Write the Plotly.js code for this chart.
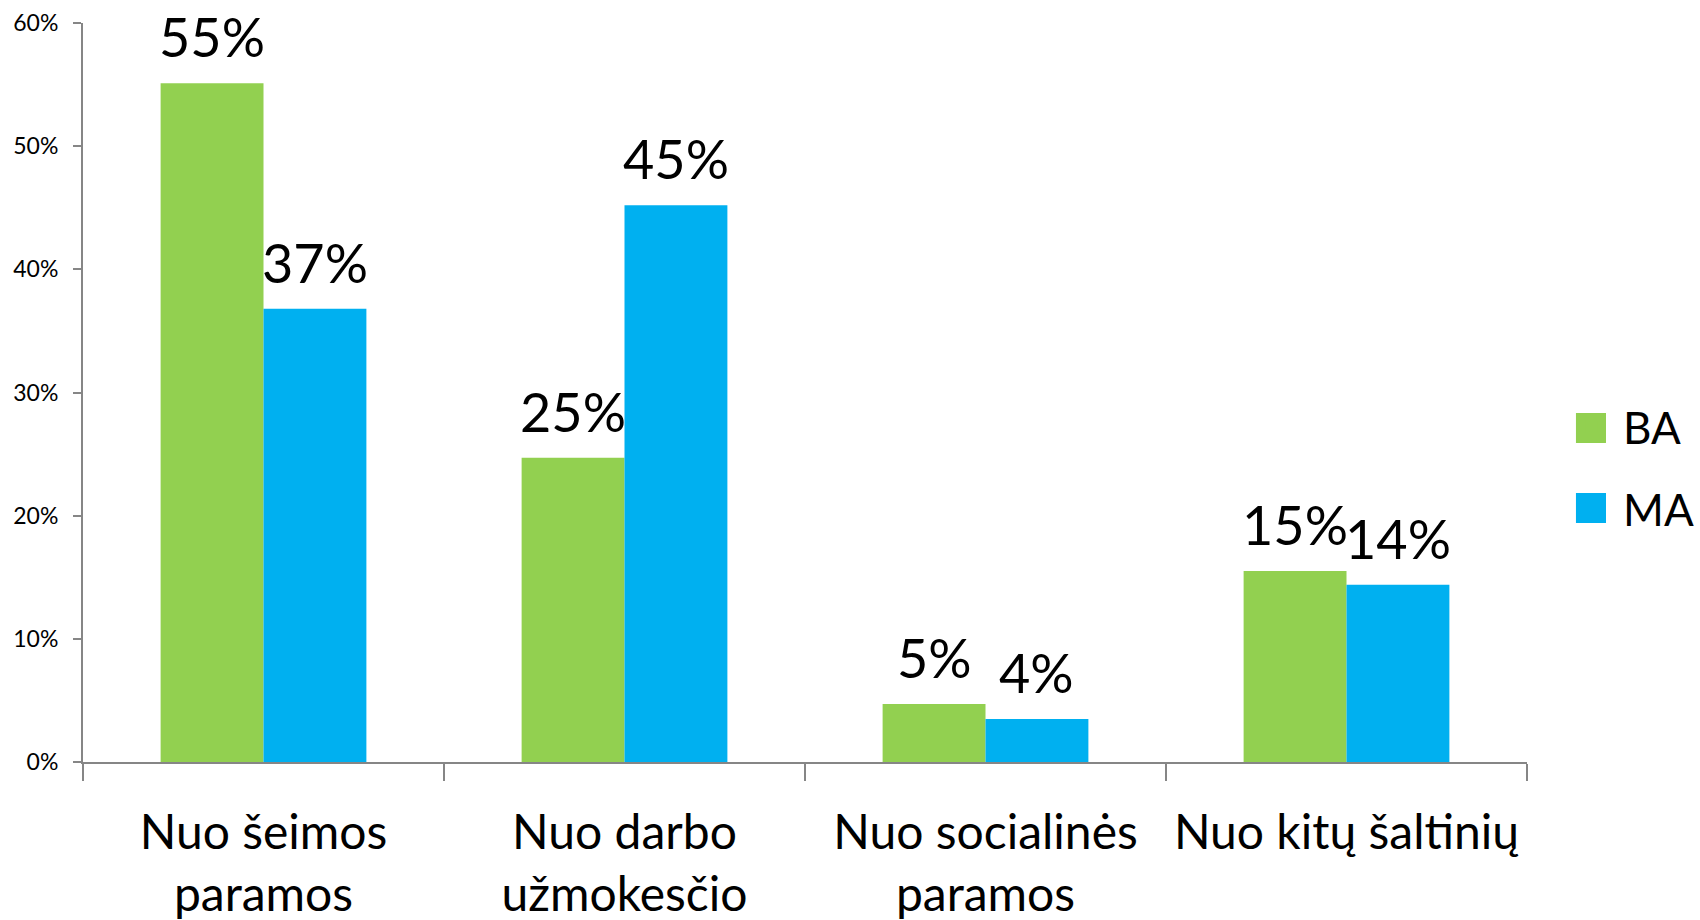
<!DOCTYPE html>
<html>
<head>
<meta charset="utf-8">
<script src="https://cdn.plot.ly/plotly-3.0.1.min.js"></script>
<style>html,body{margin:0;padding:0;background:#fff;}#chart{width:1700px;height:920px;}</style>
</head>
<body>
<div id="chart"></div>
<script>
const categories = ["Nuo šeimos<br>paramos", "Nuo darbo<br>užmokesčio", "Nuo socialinės<br>paramos", "Nuo kitų šaltinių"];
const seriesNames = ["BA", "MA"];
const seriesColors = ["#92D050", "#00B0F0"];
const baValues = [55.1, 24.7, 4.7, 15.5];
const maValues = [36.8, 45.2, 3.5, 14.4];
const baLabels = ["55%", "25%", "5%", "15%"];
const maLabels = ["37%", "45%", "4%", "14%"];
const yTickVals = [0, 10, 20, 30, 40, 50, 60];
const yTickText = ["0%", "10%", "20%", "30%", "40%", "50%", "60%"];

const FONT = "Lato, 'Open Sans', sans-serif";
const bargap = 0.43;
const barOffset = (1 - bargap) / 4;

const traces = [
  {type: 'bar', name: seriesNames[0], x: categories, y: baValues,
   marker: {color: seriesColors[0]}, legendgroup: 'a', hoverinfo: 'skip'},
  {type: 'bar', name: seriesNames[1], x: categories, y: maValues,
   marker: {color: seriesColors[1]}, legendgroup: 'b', hoverinfo: 'skip'}
];

const annotations = [];
[[baValues, baLabels, -barOffset], [maValues, maLabels, barOffset]].forEach(([vals, labs, off]) => {
  vals.forEach((v, i) => {
    annotations.push({
      x: i + off, y: v, xref: 'x', yref: 'y', text: labs[i], showarrow: false,
      yanchor: 'bottom', xanchor: 'center', yshift: 12,
      font: {family: FONT, size: 54, color: '#000'}
    });
  });
});

// enlarged legend swatches (same colours as the legend icons they cover)
const swatchBoxes = [[1.0339, 1.0547, 0.4317, 0.4723], [1.0339, 1.0547, 0.3234, 0.3640]];
const shapes = swatchBoxes.map((b, i) => ({
  type: 'rect', xref: 'paper', yref: 'paper', x0: b[0], x1: b[1], y0: b[2], y1: b[3],
  fillcolor: seriesColors[i], line: {width: 0}, layer: 'above'
}));

const layout = {
  width: 1700, height: 920,
  margin: {l: 83, r: 173, t: 23, b: 158, autoexpand: false},
  paper_bgcolor: '#fff', plot_bgcolor: '#fff',
  barmode: 'group', bargap: bargap, bargroupgap: 0,
  font: {family: FONT, color: '#000'},
  showlegend: true,
  legend: {x: 1.0222, xanchor: 'left', y: 0.398, yanchor: 'middle', itemwidth: 54,
           font: {family: FONT, size: 44, color: '#000'}, tracegroupgap: 22,
           bgcolor: 'rgba(0,0,0,0)'},
  xaxis: {type: 'category', showline: true, linecolor: '#868686', linewidth: 2,
          ticks: 'outside', tickson: 'boundaries', ticklen: 17, tickcolor: '#868686', tickwidth: 2,
          tickfont: {family: FONT, size: 48, color: '#000'}, showgrid: false, zeroline: false,
          ticklabelstandoff: 27, fixedrange: true, automargin: false},
  yaxis: {range: [0, 60], tickvals: yTickVals, ticktext: yTickText, showline: true,
          linecolor: '#868686', linewidth: 2, ticks: 'outside', ticklen: 8, tickcolor: '#868686', tickwidth: 2,
          tickfont: {family: FONT, size: 23, color: '#000'}, showgrid: false, zeroline: false,
          ticklabelstandoff: 10, fixedrange: true, automargin: false},
  shapes: shapes,
  annotations: annotations
};

Plotly.newPlot('chart', traces, layout, {displayModeBar: false, staticPlot: true});
</script>
</body>
</html>
